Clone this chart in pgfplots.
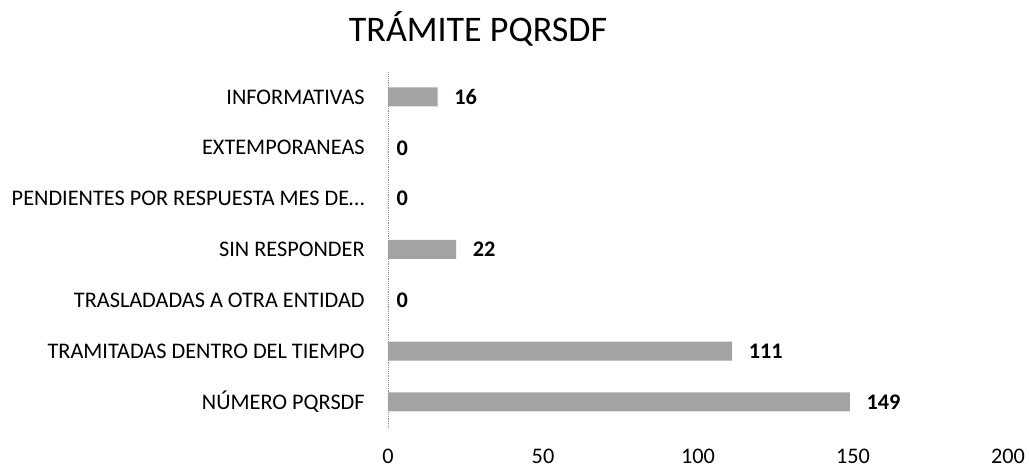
\documentclass[border=0pt]{standalone}
\usepackage{pgfplots}
\pgfplotsset{compat=1.18}
\usepackage{fontspec}
\setmainfont{Carlito}
\begin{document}
\begin{tikzpicture}
\path[use as bounding box] (0pt,0pt) rectangle (771.75pt,352.5pt);
\begin{axis}[
  at={(291pt,31.95pt)}, anchor=south west, scale only axis,
  width=465pt, height=266.9pt,
  xbar, bar width=14.25pt, bar shift=0pt,
  xmin=0, xmax=200, ymin=-0.5, ymax=6.5,
  ytick={0,...,6},
  yticklabels={NÚMERO PQRSDF, TRAMITADAS DENTRO DEL TIEMPO, TRASLADADAS A OTRA ENTIDAD, SIN RESPONDER, PENDIENTES POR RESPUESTA MES DE…, EXTEMPORANEAS, INFORMATIVAS},
  xtick={0,50,...,200},
  axis lines*=left,
  x axis line style={draw=none},
  y axis line style={draw=black!45, densely dotted},
  major tick length=0pt,
  tick label style={font=\fontsize{16.7}{20}\selectfont},
  xticklabel style={font=\fontsize{16.7}{20}\selectfont, yshift=-13pt},
  yticklabel style={xshift=-14pt},
  /pgf/number format/assume math mode=true,
  nodes near coords style={anchor=west, font=\fontsize{16.7}{20}\selectfont\bfseries, black},
  clip=false,
]
\addplot[fill=black!36, draw=none, nodes near coords, nodes near coords style={xshift=9pt}] coordinates {(149,0) (111,1) (22,3) (16,6)};
\addplot[fill=black!36, draw=none, nodes near coords, nodes near coords style={xshift=3pt}] coordinates {(0,2) (0,4) (0,5)};
\end{axis}
\node[font=\fontsize{27}{32}\selectfont] at (358.5pt,331pt) {TRÁMITE PQRSDF};
\end{tikzpicture}
\end{document}
